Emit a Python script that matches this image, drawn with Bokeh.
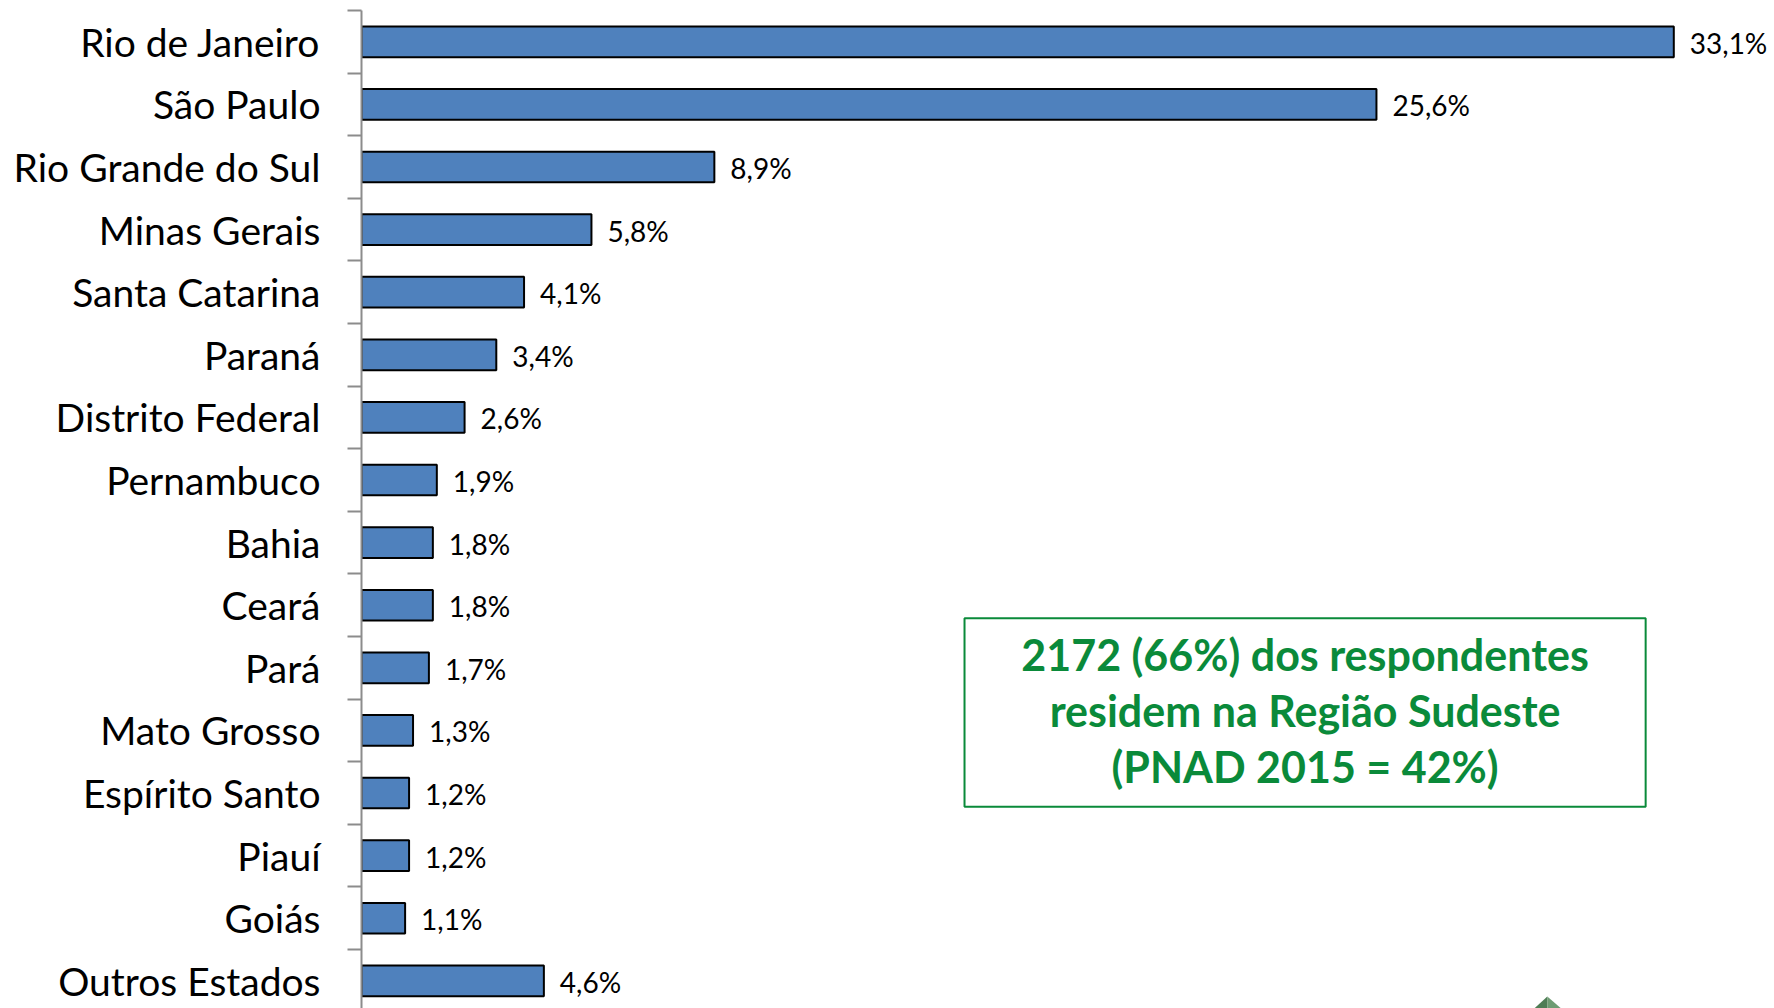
from bokeh.plotting import figure
from bokeh.models import ColumnDataSource, Range1d, FixedTicker, Label, BoxAnnotation
from bokeh.core.properties import value
from bokeh.embed import file_html
from bokeh.resources import INLINE

states = ["Rio de Janeiro", "São Paulo", "Rio Grande do Sul", "Minas Gerais",
          "Santa Catarina", "Paraná", "Distrito Federal", "Pernambuco", "Bahia",
          "Ceará", "Pará", "Mato Grosso", "Espírito Santo", "Piauí", "Goiás",
          "Outros Estados"]
percent = [33.1, 25.6, 8.9, 5.8, 4.1, 3.4, 2.6, 1.9, 1.8, 1.8, 1.7, 1.3, 1.2, 1.2, 1.1, 4.6]
note_lines = ["2172 (66%) dos respondentes", "residem na Região Sudeste", "(PNAD 2015 = 42%)"]

n = len(states)
ypos = [n - i - 0.5 for i in range(n)]
labels = [f"{v:.1f}%".replace(".", ",") for v in percent]

src = ColumnDataSource(dict(y=ypos, v=percent, lab=labels))

FONT = "Lato"
GREEN = "#0A8A3A"

p = figure(width=1774, height=1008, output_backend="svg", toolbar_location=None,
           x_range=Range1d(0, 35.64), y_range=Range1d(0.058, n),
           min_border_left=361, min_border_right=0, min_border_top=10, min_border_bottom=0)
p.outline_line_color = None
p.xgrid.visible = False
p.ygrid.visible = False
p.xaxis.visible = False

p.hbar(y="y", right="v", left=0, height=0.49, source=src,
       fill_color="#4F81BD", line_color="black", line_width=2)
p.text(x="v", y="y", text="lab", source=src, x_offset=16, y_offset=1,
       text_font=value(FONT), text_font_size="28px", text_baseline="middle",
       text_align="left", text_color="black")

ax = p.yaxis[0]
ax.ticker = FixedTicker(ticks=ypos, minor_ticks=list(range(0, n + 1)))
ax.major_label_overrides = {y: s for y, s in zip(ypos, states)}
ax.major_tick_out = 0
ax.major_tick_in = 0
ax.minor_tick_out = 14
ax.minor_tick_in = 0
ax.minor_tick_line_color = "#8C8C8C"
ax.minor_tick_line_width = 2
ax.axis_line_color = "#8C8C8C"
ax.axis_line_width = 2
ax.major_label_standoff = 27
ax.major_label_text_font = FONT
ax.major_label_text_font_size = "39px"
ax.major_label_text_color = "black"

box = BoxAnnotation(left=15.21, right=32.39, top=6.29, bottom=3.28,
                    fill_color="white", fill_alpha=1.0,
                    line_color=GREEN, line_width=2, line_alpha=1.0)
p.add_layout(box)
for i, t in enumerate(note_lines):
    p.add_layout(Label(x=23.8, y=5.71 - i * 0.89, text=t, text_align="center",
                       text_baseline="middle", text_font=FONT, text_font_style="bold",
                       text_font_size="43px", text_color=GREEN))

# small cropped logo tip at the bottom right (decoration)
p.patches(xs=[[29.58, 29.91, 29.91], [29.91, 30.26, 29.91]],
          ys=[[0.058, 0.25, 0.058], [0.25, 0.058, 0.058]],
          fill_color=["#4E7D55", "#6E9C73"], line_color=None)

open("out.html", "w").write(file_html(p, INLINE))
